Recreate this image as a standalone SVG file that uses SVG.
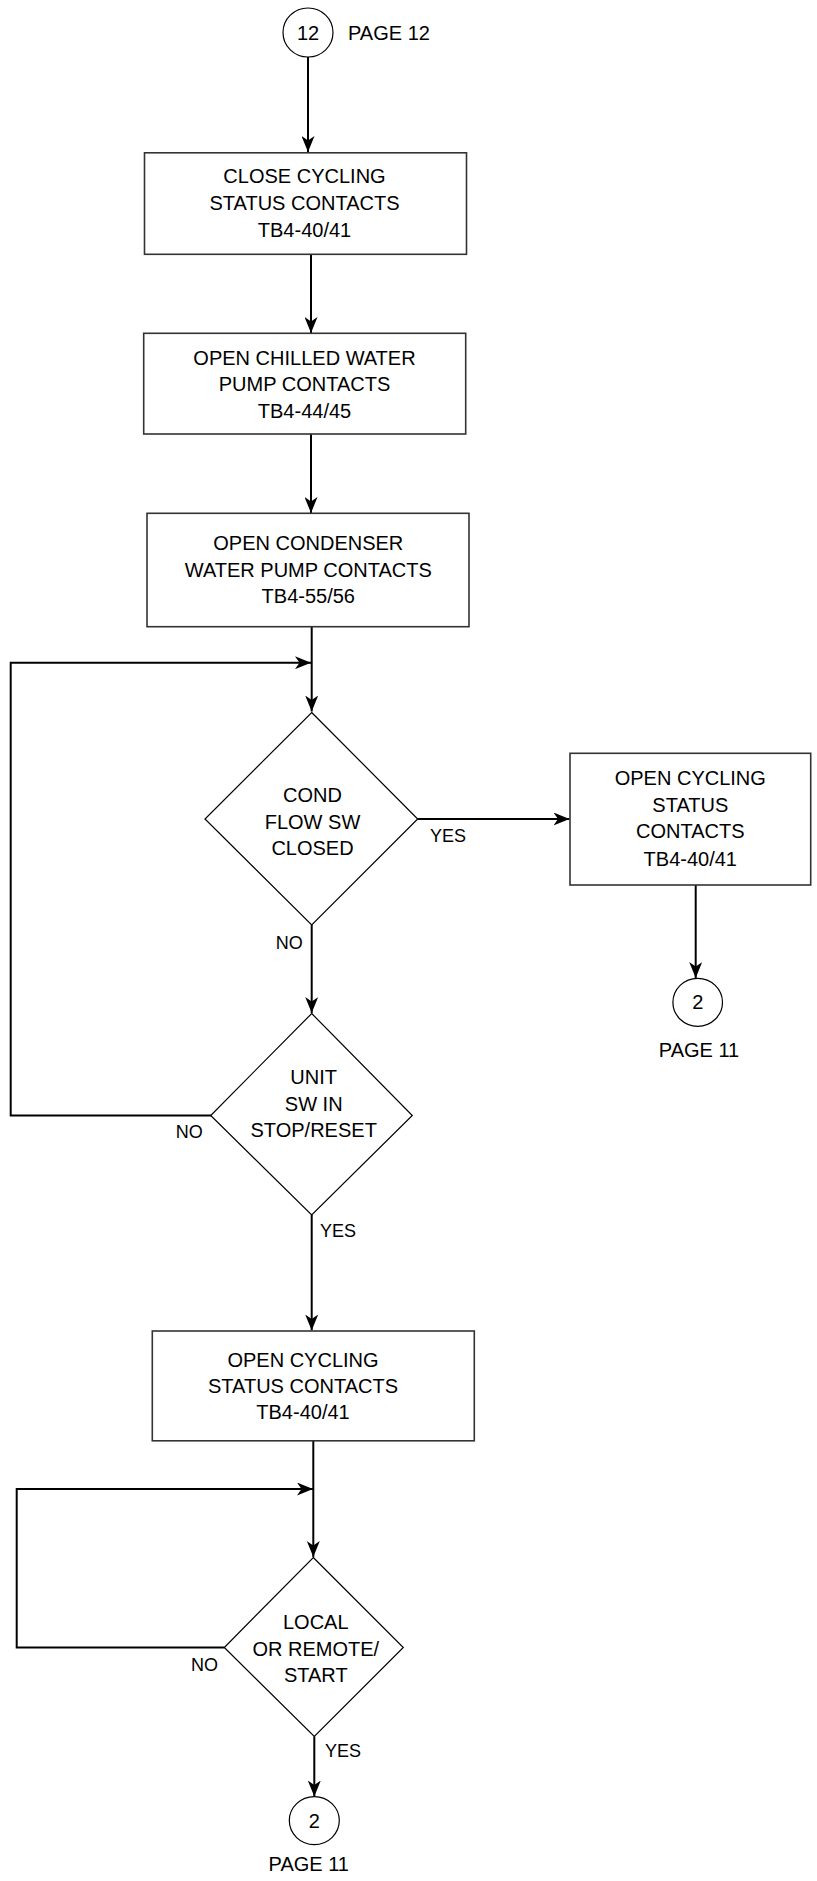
<svg xmlns="http://www.w3.org/2000/svg" width="817" height="1881" viewBox="0 0 817 1881">
<style>
.box{fill:#fff;stroke:#333;stroke-width:1.6}
.dia{fill:#fff;stroke:#000;stroke-width:1.2}
.circ{fill:#fff;stroke:#000;stroke-width:1.2}
.t{font-family:"Liberation Sans",Arial,sans-serif;font-size:20px;fill:#000;text-anchor:middle}
.tl{font-family:"Liberation Sans",Arial,sans-serif;font-size:20px;fill:#000}
.lbl{font-family:"Liberation Sans",Arial,sans-serif;font-size:18px;fill:#000}
.c{fill:none;stroke:#000;stroke-width:2}
</style>
<defs>
<marker id="arr" viewBox="0 0 16 13" refX="16" refY="6.5" markerWidth="16" markerHeight="13" markerUnits="userSpaceOnUse" orient="auto">
<path d="M0,0 L16,6.5 L0,13 L4.5,6.5 Z" fill="#000"/>
</marker>
</defs>
<g id="connectors">
<path class="c" d="M308,57 V152" marker-end="url(#arr)"/>
<path class="c" d="M311,254 V333" marker-end="url(#arr)"/>
<path class="c" d="M311,434 V513" marker-end="url(#arr)"/>
<path class="c" d="M311.7,627 V711.5" marker-end="url(#arr)"/>
<path class="c" d="M211,1115.5 H10.7 V662.7 H311" marker-end="url(#arr)"/>
<path class="c" d="M417.7,819 H569.5" marker-end="url(#arr)"/>
<path class="c" d="M311.7,925 V1013" marker-end="url(#arr)"/>
<path class="c" d="M695.7,885 V978" marker-end="url(#arr)"/>
<path class="c" d="M311.7,1215 V1330.5" marker-end="url(#arr)"/>
<path class="c" d="M313.3,1441 V1557" marker-end="url(#arr)"/>
<path class="c" d="M224.3,1647.5 H16.7 V1489 H313" marker-end="url(#arr)"/>
<path class="c" d="M314.3,1736.5 V1796.5" marker-end="url(#arr)"/>
<text class="lbl" x="430" y="842">YES</text>
<text class="lbl" x="275.7" y="949">NO</text>
<text class="lbl" x="175.7" y="1137.5">NO</text>
<text class="lbl" x="320" y="1236.5">YES</text>
<text class="lbl" x="191" y="1670.5">NO</text>
<text class="lbl" x="325" y="1756.5">YES</text>
</g>
<g id="start12">
<ellipse class="circ" cx="308" cy="32.5" rx="25" ry="24.5"/>
<text class="t" x="308" y="39.5">12</text>
<text class="tl" x="348" y="40">PAGE 12</text>
</g>
<g id="box1">
<rect class="box" x="144.5" y="152.8" width="322" height="101.5"/>
<text class="t" x="304.5" y="182.7">CLOSE CYCLING</text>
<text class="t" x="304.5" y="209.7">STATUS CONTACTS</text>
<text class="t" x="304.5" y="236.7">TB4-40/41</text>
</g>
<g id="box2">
<rect class="box" x="143.7" y="333.3" width="322" height="100.7"/>
<text class="t" x="304.5" y="365">OPEN CHILLED WATER</text>
<text class="t" x="304.5" y="391.3">PUMP CONTACTS</text>
<text class="t" x="304.5" y="417.7">TB4-44/45</text>
</g>
<g id="box3">
<rect class="box" x="147" y="513.3" width="322" height="113.4"/>
<text class="t" x="308.3" y="550">OPEN CONDENSER</text>
<text class="t" x="308.3" y="576.5">WATER PUMP CONTACTS</text>
<text class="t" x="308.3" y="603.3">TB4-55/56</text>
</g>
<g id="dec1">
<polygon class="dia" points="311.7,712.5 417.7,819 311.7,925 205,819"/>
<text class="t" x="312.5" y="801.5">COND</text>
<text class="t" x="312.5" y="828.5">FLOW SW</text>
<text class="t" x="312.5" y="855">CLOSED</text>
</g>
<g id="box5">
<rect class="box" x="570" y="753.3" width="240.7" height="131.7"/>
<text class="t" x="690.3" y="785">OPEN CYCLING</text>
<text class="t" x="690.3" y="811.7">STATUS</text>
<text class="t" x="690.3" y="838.3">CONTACTS</text>
<text class="t" x="690.3" y="865.7">TB4-40/41</text>
</g>
<g id="end2a">
<ellipse class="circ" cx="697.7" cy="1002.3" rx="24.8" ry="24"/>
<text class="t" x="697.7" y="1008.5">2</text>
<text class="t" x="699" y="1056.7">PAGE 11</text>
</g>
<g id="dec2">
<polygon class="dia" points="311.7,1013.5 412.3,1115.5 311.7,1215 210.7,1115.5"/>
<text class="t" x="313.7" y="1084">UNIT</text>
<text class="t" x="313.7" y="1110.5">SW IN</text>
<text class="t" x="313.7" y="1136.5">STOP/RESET</text>
</g>
<g id="box4">
<rect class="box" x="152.3" y="1331" width="322" height="109.8"/>
<text class="t" x="303" y="1366.5">OPEN CYCLING</text>
<text class="t" x="303" y="1392.6">STATUS CONTACTS</text>
<text class="t" x="303" y="1418.6">TB4-40/41</text>
</g>
<g id="dec3">
<polygon class="dia" points="313.3,1557.5 403.3,1647.5 314.3,1736.5 224.3,1647.5"/>
<text class="t" x="315.8" y="1629">LOCAL</text>
<text class="t" x="315.8" y="1655.7">OR REMOTE/</text>
<text class="t" x="315.8" y="1681.6">START</text>
</g>
<g id="end2b">
<ellipse class="circ" cx="314.3" cy="1820.6" rx="25" ry="24"/>
<text class="t" x="314.3" y="1828">2</text>
<text class="t" x="308.8" y="1870.6">PAGE 11</text>
</g>
</svg>
